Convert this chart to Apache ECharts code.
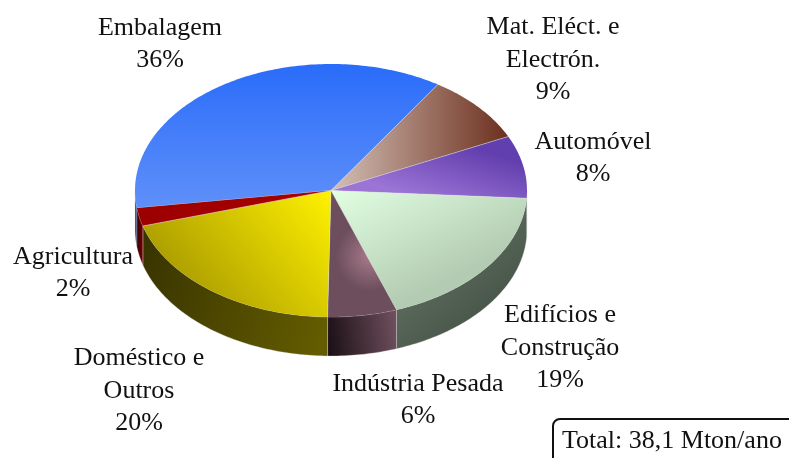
<!DOCTYPE html>
<html>
<head>
<meta charset="utf-8">
<title>Consumo de plásticos</title>
<script src="https://cdn.jsdelivr.net/npm/echarts@6/dist/echarts.min.js"></script>
<style>
  html, body { margin: 0; padding: 0; background: #fff; }
  #chart { width: 789px; height: 458px; }
</style>
</head>
<body>
<div id="chart"></div>
<script>
// data, clockwise from the left edge of Embalagem
const categories = ['Embalagem', 'Mat. Eléct. e\nElectrón.', 'Automóvel', 'Edifícios e\nConstrução', 'Indústria Pesada', 'Doméstico e\nOutros', 'Agricultura']
const shares = [36.4, 8.8, 8.0, 18.6, 5.7, 20.2, 2.3]
const totalNote = 'Total: 38,1 Mton/ano'

// pie geometry
const cx = 331
const cy = 190.5
const rx = 196
const ry = 126.5
const depth = 39
const startAngle = 188

const lin = (x, y, x2, y2, a, b) => new echarts.graphic.LinearGradient(x, y, x2, y2, [
  { offset: 0, color: a },
  { offset: 1, color: b }
])
const rad = (x, y, r, a, b) => new echarts.graphic.RadialGradient(x, y, r, [
  { offset: 0, color: a },
  { offset: 1, color: b }
])

const topFills = [
  lin(0, 0, 0, 1, '#2a6cf9', '#5f90f9'),
  lin(0, 0.5, 1, 0.5, '#d4c0b6', '#6c2f1e'),
  lin(0.55, 0, 0.45, 1, '#623fae', '#9c74d6'),
  lin(0, 0, 0.3, 1, '#e2ffe2', '#b2cbb2'),
  rad(0.62, 0.52, 0.5, '#a97a8b', '#6c4e5c'),
  lin(1, 0, 0.2, 1, '#fff200', '#a39400'),
  lin(0, 0, 1, 0, '#9c0000', '#a80000')
]
const wallFills = [
  lin(0, 0, 1, 0, '#2b4a8c', '#1d2f5c'),
  '#4a2a20',
  '#4a3a70',
  lin(0, 0, 1, 1, '#6f7f70', '#3a483b'),
  lin(0, 0.6, 1, 0.4, '#1c1016', '#6e4f5d'),
  lin(0, 0.3, 1, 0.7, '#3a3500', '#635c00'),
  lin(0, 0, 1, 0, '#3a0000', '#700000')
]

// label block centres
const labelPos = [
  [160, 44], [553, 60], [593, 158], [560, 348], [418, 400], [139, 391], [73, 273]
]

const pt = (deg, dy = 0) => {
  const r = deg * Math.PI / 180
  return [cx + rx * Math.cos(r), cy - ry * Math.sin(r) + dy]
}

const arc = (from, to, dy) => {
  const pts = []
  const n = Math.max(2, Math.ceil(Math.abs(from - to)))
  for (let i = 0; i <= n; i++) pts.push(pt(from + (to - from) * i / n, dy))
  return pts
}

const wall = (from, to, fill) => {
  const down = arc(from, to, 0)
  const up = arc(to, from, depth)
  return {
    type: 'polygon',
    shape: { points: down.concat(up) },
    style: { fill, stroke: 'rgba(225,225,225,0.55)', lineWidth: 0.6 }
  }
}

const renderSlice = (params, api) => {
  const i = params.dataIndex
  const a0 = startAngle - api.value(0) * 3.6
  const a1 = startAngle - api.value(1) * 3.6
  const children = []
  // only the lower half of the rim can be seen
  ;[[180, 360], [-180, 0]].forEach(([lo, hi]) => {
    const from = Math.min(a0, hi)
    const to = Math.max(a1, lo)
    if (from > to) children.push(wall(from, to, wallFills[i]))
  })
  children.push({
    type: 'polygon',
    shape: { points: [[cx, cy]].concat(arc(a0, a1, 0)) },
    style: { fill: topFills[i] }
  })
  children.push({
    type: 'polyline',
    shape: { points: [[cx, cy], pt(a0)] },
    style: { stroke: 'rgba(225,225,225,0.7)', lineWidth: 0.7, fill: null }
  })
  return { type: 'group', children }
}

let sum = 0
const sliceData = shares.map(v => {
  const row = [sum, sum + v]
  sum += v
  return row
})

const labelEls = categories.map((name, i) => ({
  type: 'text',
  x: labelPos[i][0],
  y: labelPos[i][1],
  style: {
    text: name + '\n' + Math.round(shares[i]) + '%',
    font: '26px "Liberation Serif", "Times New Roman", serif',
    lineHeight: 32.5,
    fill: '#111',
    align: 'center',
    verticalAlign: 'middle'
  }
}))

const myChart = echarts.init(document.getElementById('chart'), null, { renderer: 'canvas' })
myChart.setOption({
  animation: false,
  backgroundColor: '#fff',
  graphic: {
    elements: labelEls.concat([
      {
        type: 'rect',
        shape: { x: 553, y: 419, width: 260, height: 70, r: 7 },
        style: { fill: 'none', stroke: '#111', lineWidth: 2 }
      },
      {
        type: 'text',
        x: 562,
        y: 441,
        style: {
          text: totalNote,
          font: '26px "Liberation Serif", "Times New Roman", serif',
          fill: '#111',
          align: 'left',
          verticalAlign: 'middle'
        }
      }
    ])
  },
  series: [
    {
      type: 'custom',
      coordinateSystem: 'none',
      renderItem: renderSlice,
      data: sliceData
    }
  ]
})
</script>
</body>
</html>
